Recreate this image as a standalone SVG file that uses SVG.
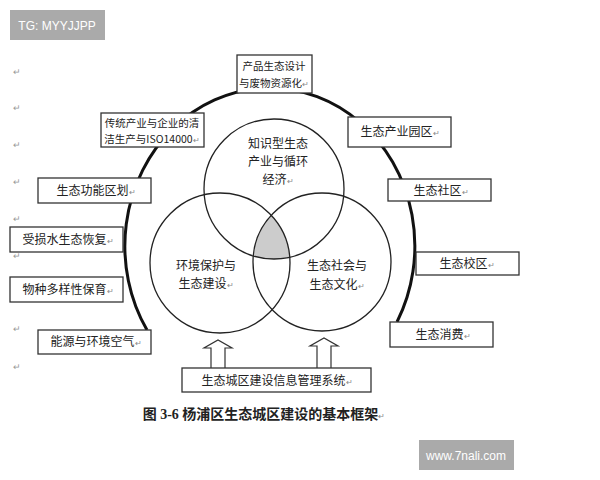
<svg xmlns="http://www.w3.org/2000/svg" width="600" height="480" viewBox="0 0 600 480">
<style>
.b{fill:#fff;stroke:#333;stroke-width:1.3}
.t{font-family:"Noto Sans CJK SC",sans-serif;font-size:12px;fill:#222;text-anchor:middle}
.s{font-size:10.5px}
.r{font-size:8px;fill:#888}
.m{font-family:"Liberation Sans",sans-serif;font-size:9px;fill:#999}
.c{fill:none;stroke:#222;stroke-width:1.3}
</style>
<defs>
<clipPath id="cl"><circle cx="220" cy="263" r="70"/></clipPath>
<clipPath id="cr"><circle cx="322" cy="262" r="69"/></clipPath>
</defs>
<rect width="600" height="480" fill="#fff"/>
<g class="m"><text x="13" y="75">↵</text><text x="13" y="111">↵</text><text x="13" y="148">↵</text><text x="13" y="185">↵</text><text x="13" y="222">↵</text><text x="13" y="259">↵</text><text x="13" y="295">↵</text><text x="13" y="332">↵</text><text x="13" y="370">↵</text></g>
<g id="connectors">
<path d="M147,330 A145,158 0 1 1 397,322" fill="none" stroke="#111" stroke-width="3"/>
<path d="M211,368 V348 H204 L218,340 L232,348 H225 V368" fill="#fff" stroke="#333" stroke-width="1.2"/>
<path d="M317,368 V346 H310 L324,338 L338,346 H331 V368" fill="#fff" stroke="#333" stroke-width="1.2"/>
</g>
<g id="overlap" clip-path="url(#cl)"><g clip-path="url(#cr)"><circle cx="274" cy="189" r="70" fill="#ccc"/></g></g>
<g id="c-top"><circle class="c" cx="274" cy="189" r="70"/><text class="t" x="278" y="148">知识型生态</text><text class="t" x="278" y="166">产业与循环</text><text class="t" x="278" y="184">经济<tspan class="r">↵</tspan></text></g>
<g id="c-left"><circle class="c" cx="220" cy="263" r="70"/><text class="t" x="206" y="270">环境保护与</text><text class="t" x="206" y="288">生态建设<tspan class="r">↵</tspan></text></g>
<g id="c-right"><circle class="c" cx="322" cy="262" r="69"/><text class="t" x="337" y="270">生态社会与</text><text class="t" x="337" y="289">生态文化<tspan class="r">↵</tspan></text></g>
<g id="n1"><rect class="b" x="237" y="55" width="75" height="38"/><text class="t s" x="274" y="70">产品生态设计</text><text class="t s" x="274" y="87">与废物资源化<tspan class="r">↵</tspan></text></g>
<g id="n2"><rect class="b" x="101" y="113" width="103" height="34"/><text class="t s" x="152" y="127">传统产业与企业的清</text><text class="t s" x="152" y="143">洁生产与ISO14000<tspan class="r">↵</tspan></text></g>
<g id="n3"><rect class="b" x="348" y="117" width="103" height="30"/><text class="t" x="400" y="136">生态产业园区<tspan class="r">↵</tspan></text></g>
<g id="n4"><rect class="b" x="38" y="178" width="113" height="25"/><text class="t" x="96" y="195">生态功能区划<tspan class="r">↵</tspan></text></g>
<g id="n5"><rect class="b" x="10" y="227" width="113" height="25"/><text class="t" x="68" y="244">受损水生态恢复<tspan class="r">↵</tspan></text></g>
<g id="n6"><rect class="b" x="10" y="277" width="113" height="25"/><text class="t" x="68" y="294">物种多样性保育<tspan class="r">↵</tspan></text></g>
<g id="n7"><rect class="b" x="38" y="330" width="113" height="24"/><text class="t" x="96" y="346">能源与环境空气<tspan class="r">↵</tspan></text></g>
<g id="n8"><rect class="b" x="388" y="179" width="103" height="22"/><text class="t" x="441" y="195">生态社区<tspan class="r">↵</tspan></text></g>
<g id="n9"><rect class="b" x="416" y="252" width="103" height="23"/><text class="t" x="467" y="268">生态校区<tspan class="r">↵</tspan></text></g>
<g id="n10"><rect class="b" x="390" y="322" width="103" height="25"/><text class="t" x="443" y="339">生态消费<tspan class="r">↵</tspan></text></g>
<g id="n11"><rect class="b" x="182" y="368" width="189" height="24"/><text class="t" x="277" y="385">生态城区建设信息管理系统<tspan class="r">↵</tspan></text></g>
<text x="264" y="419" style="font-family:'Liberation Serif','Noto Sans CJK SC',serif;font-size:14px;font-weight:bold;fill:#222;text-anchor:middle">图 3-6  杨浦区生态城区建设的基本框架<tspan class="r" font-weight="normal">↵</tspan></text>
<rect x="10" y="10" width="95" height="30" fill="#aaa"/>
<text x="57" y="30" style="font-family:'Liberation Sans',sans-serif;font-size:12px;fill:#fff;text-anchor:middle">TG: MYYJJPP</text>
<rect x="419" y="440" width="95" height="30" fill="#aaa"/>
<text x="466" y="460" style="font-family:'Liberation Sans',sans-serif;font-size:12px;fill:#fff;text-anchor:middle">www.7nali.com</text>
</svg>
